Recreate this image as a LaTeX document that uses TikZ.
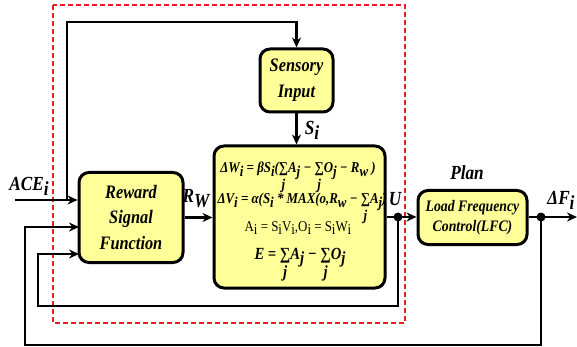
\documentclass[tikz,border=0pt]{standalone}
\usepackage{fontspec}
\setmainfont{Liberation Serif}[FakeStretch=0.86]
\usetikzlibrary{arrows.meta, positioning}
\definecolor{boxfill}{RGB}{255,255,153}
\definecolor{zonered}{RGB}{237,28,36}
\newcommand{\idx}[1]{\raisebox{-0.55ex}{#1}}
\newcommand{\sumj}{$\mathop{\hbox{∑}}\limits_{\hbox{\raisebox{0.5ex}{j}}}$}
\tikzstyle{block} = [rectangle, rounded corners=5pt, line width=1.5pt,
draw=black, fill=boxfill, align=center,
font=\fontsize{9.5}{12.8}\selectfont\bfseries\itshape]
\tikzstyle{eqn} = [anchor=base, inner sep=0pt, font=\fontsize{7.5}{9}\selectfont\bfseries\itshape]
\tikzstyle{arrow} = [line width=1.4pt,-{Stealth[length=5pt,width=4.5pt]}]
\tikzstyle{line} = [line width=1.4pt]
\tikzstyle{dot} = [circle, fill=black, inner sep=0pt, minimum size=4.5pt]
\tikzstyle{lbl} = [inner sep=0pt, font=\fontsize{10}{12}\selectfont\bfseries\itshape]
\begin{document}
\begin{tikzpicture}[x=0.5pt, y=-0.5pt]
\useasboundingbox (0,0) rectangle (577,347);

% Agent zone
\draw[zonered, line width=1pt, dash pattern=on 2.5pt off 1.5pt] (53,5) rectangle (405,323);

% Nodes
\node[block, minimum width=36.5pt, minimum height=31.5pt] (sensory) at (296.5,80.5) {Sensory\\Input};
\node[block, minimum width=52pt, minimum height=45pt] (reward) at (131,217.5) {Reward\\Signal\\Function};
\node[block, minimum width=85.5pt, minimum height=71pt] (core) at (299.5,217) {};
\node[block, minimum width=54.5pt, minimum height=27pt,
font=\fontsize{8}{9.7}\selectfont\bfseries\itshape] (lfc) at (472.5,217.5) {Load Frequency\\Control(LFC)};

% Learning rules
\node[eqn] (eqW) at (298,173) {ΔW\idx{i} = βS\idx{i}(\sumj A\idx{j} − \sumj O\idx{j} − R\idx{w} )};
\node[eqn] (eqV) at (302,204) {ΔV\idx{i} = α(S\idx{i} * MAX(o,R\idx{w} − \sumj A\idx{j})};
\node[eqn, font=\fontsize{7.5}{9}\selectfont] (eqAO) at (298,231) {A\idx{i} = S\idx{i}V\idx{i},O\idx{i} = S\idx{i}W\idx{i}};
\node[eqn, font=\fontsize{8.5}{10}\selectfont\bfseries\itshape] (eqE) at (300,259) {E = \sumj A\idx{j} − \sumj O\idx{j}};

\node[dot] (udot) at (398,217) {};
\node[dot] (fdot) at (541,217) {};

\coordinate (acein) at (15,200);
\coordinate (tap) at (67,200);
\coordinate (topL) at (67,22);
\coordinate (outF) at (577,217);
\coordinate (fbU) at (38,306);
\coordinate (fbF) at (25,345);
\coordinate (inB) at (79,227);
\coordinate (inC) at (79,254);

% Labels
\node[lbl] (aceLbl) at (29,186) {ACE\idx{i}};
\node[lbl] (rwLbl) at (196,199) {R\idx{W}};
\node[lbl] (siLbl) at (312,130) {S\idx{i}};
\node[lbl] (uLbl) at (395,199) {U};
\node[lbl] (planLbl) at (467,173) {Plan};
\node[lbl] (dfLbl) at (561,200) {ΔF\idx{i}};

% Arrows
\draw[arrow] (acein) -- (acein -| reward.west);
\draw[arrow] (tap) -- (topL) -| (sensory.north);
\draw[arrow] (sensory.south) -- (sensory.south |- core.north);
\draw[arrow] (reward.east) -- (reward.east -| core.west);
\draw[arrow] (core.east |- udot) -- (udot -| lfc.west);
\draw[arrow] (lfc.east |- fdot) -- (outF);
\draw[arrow] (udot.center) |- (fbU) |- (inC);
\draw[arrow] (fdot.center) |- (fbF) |- (inB);

\end{tikzpicture}
\end{document}
